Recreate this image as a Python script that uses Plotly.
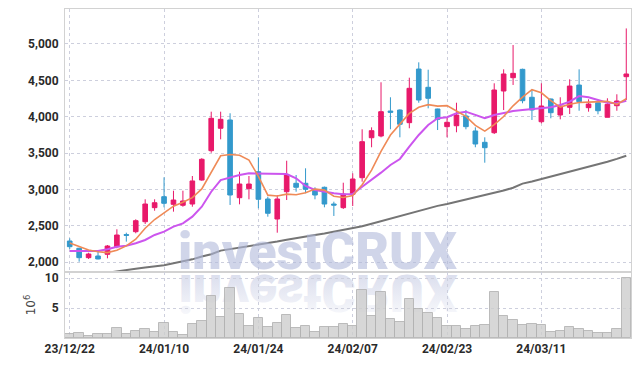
import plotly.graph_objects as go
from plotly.subplots import make_subplots
import urllib.parse

dates = ["23/12/22","23/12/26","23/12/27","23/12/28","24/01/02","24/01/03","24/01/04","24/01/05","24/01/08","24/01/09",
         "24/01/10","24/01/11","24/01/12","24/01/15","24/01/16","24/01/17","24/01/18","24/01/19","24/01/22","24/01/23",
         "24/01/24","24/01/25","24/01/26","24/01/29","24/01/30","24/01/31","24/02/01","24/02/02","24/02/05","24/02/06",
         "24/02/07","24/02/08","24/02/13","24/02/14","24/02/15","24/02/16","24/02/19","24/02/20","24/02/21","24/02/22",
         "24/02/23","24/02/26","24/02/27","24/02/28","24/02/29","24/03/04","24/03/05","24/03/06","24/03/07","24/03/08",
         "24/03/11","24/03/12","24/03/13","24/03/14","24/03/15","24/03/18","24/03/19","24/03/20","24/03/21","24/03/22"]

open_ = [2292,2192,2063,2086,2109,2214,2380,2420,2557,2750,
         2901,2796,2783,2800,3130,3533,3841,3955,2887,3011,
         3244,2869,2594,2969,3085,3085,3002,3030,2800,2750,
         2934,3162,3711,3735,4078,4092,3918,4655,4404,4106,
         3863,3876,4010,3804,3648,3780,4353,4536,4651,4267,
         3931,4243,4023,4129,4435,4124,4192,3992,4151,4550]
high = [2329,2200,2131,2159,2237,2453,2406,2590,2865,2865,
        3167,2983,2983,3185,3430,4069,4069,4047,3244,3185,
        3442,2901,2924,3395,3199,3291,3030,3040,2832,3093,
        3222,3827,3854,4473,4267,4100,4536,4747,4646,4110,
        3992,4192,4092,3854,3717,4459,4651,4985,4660,4376,
        4459,4250,4267,4514,4651,4239,4200,4253,4308,5213]
low = [2182,2008,2045,2040,2054,2192,2283,2398,2526,2708,
       2755,2695,2763,2763,3120,3505,3689,2787,2796,2865,
       2741,2626,2406,2855,2969,2948,2865,2755,2636,2732,
       2773,3107,3580,3717,3827,3717,3841,4192,4115,3817,
       3717,3786,3827,3580,3368,3762,4092,4436,4184,3955,
       3909,3978,3964,4037,4082,4069,4033,3992,4082,4229]
close = [2214,2063,2113,2045,2223,2374,2370,2571,2800,2818,
         2810,2855,2842,3117,3415,3978,3964,2924,3075,3075,
         2865,2673,2869,3199,3030,3002,2924,2800,2785,2938,
         3144,3657,3808,4069,4060,3896,4390,4229,4253,3964,
         3923,4023,3863,3625,3574,4367,4587,4596,4220,4092,
         4147,4055,4147,4421,4206,4174,4082,4170,4216,4587]

ma_short = [2265,2214,2168,2145,2132,2164,2225,2317,2468,2587,
            2674,2771,2825,2888,3008,3241,3463,3480,3471,3403,
            3181,2922,2911,2936,2927,2955,3005,2991,2908,2890,
            2918,3065,3266,3523,3748,3898,4045,4129,4166,4146,
            4152,4078,4005,3880,3802,3890,4003,4150,4269,4372,
            4328,4222,4132,4172,4195,4201,4206,4211,4170,4246]
ma_mid = [2155,2152,2150,2155,2178,2214,2228,2261,2306,2375,
          2420,2489,2535,2626,2763,2969,3130,3167,3199,3222,
          3222,3213,3213,3213,3154,3048,2993,2969,2948,2934,
          2938,3038,3130,3231,3336,3419,3588,3749,3886,3978,
          3992,4047,4069,4023,3978,4023,4055,4078,4092,4101,
          4115,4129,4161,4206,4284,4267,4229,4192,4184,4220]
ma_long = [1780,1800,1820,1840,1858,1878,1895,1912,1928,1943,
           1960,1985,2010,2040,2080,2110,2160,2180,2200,2220,
           2238,2262,2285,2310,2335,2355,2375,2395,2420,2443,
           2460,2495,2530,2565,2600,2640,2675,2710,2745,2775,
           2800,2830,2860,2895,2920,2950,2985,3024,3080,3110,
           3144,3175,3205,3240,3275,3310,3345,3380,3420,3464]

volume_m = [0.67,0.9,0.33,0.67,0.67,1.67,0.67,1.17,1.5,1.05,
            2.5,1.05,0.5,2.33,2.83,7.0,3.56,8.33,4.0,2.0,
            3.33,1.83,2.5,3.83,1.67,2.0,1.0,1.83,1.83,2.33,
            2.05,8.0,3.67,7.67,3.17,2.72,6.5,4.9,4.22,3.33,
            2.05,2.0,1.55,2.0,2.22,7.67,3.67,3.05,2.22,2.4,
            2.22,1.05,1.22,1.83,1.55,1.22,0.9,0.9,1.5,10.0]

price_ticks = [2000, 2500, 3000, 3500, 4000, 4500, 5000]
vol_ticks = [5, 10]
date_ticks = dates[0::10]

FONT = "Roboto, sans-serif"
UP = "#e8196a"
DOWN = "#3399cc"
GRID = "#cdcfdd"

L, R, T, B = 65, 8, 9, 28
PW = 639 - L - R
PH = 366 - T - B

fig = make_subplots(rows=2, cols=1, shared_xaxes=True, vertical_spacing=0)

fig.add_trace(go.Candlestick(x=dates, open=open_, high=high, low=low, close=close,
                             increasing=dict(line=dict(color=UP, width=1), fillcolor=UP),
                             decreasing=dict(line=dict(color=DOWN, width=1), fillcolor=DOWN),
                             showlegend=False, hoverinfo="skip"), row=1, col=1)
fig.add_trace(go.Scatter(x=dates, y=ma_long, mode="lines", line=dict(color="#757575", width=2),
                         showlegend=False, hoverinfo="skip"), row=1, col=1)
fig.add_trace(go.Scatter(x=dates, y=ma_mid, mode="lines", line=dict(color="#cc55ee", width=2),
                         showlegend=False, hoverinfo="skip"), row=1, col=1)
fig.add_trace(go.Scatter(x=dates, y=ma_short, mode="lines", line=dict(color="#ef8a57", width=1.6),
                         showlegend=False, hoverinfo="skip"), row=1, col=1)
fig.add_trace(go.Bar(x=dates, y=volume_m, marker=dict(color="rgba(205,205,205,0.8)",
                                                      line=dict(color="rgba(175,175,175,0.8)", width=1)),
                     width=1.0, showlegend=False, hoverinfo="skip"), row=2, col=1)

split = (338 - 272) / PH

axis_common = dict(showline=True, linecolor="#d2d2d2", linewidth=1, mirror=True, automargin=False,
                   showgrid=True, gridcolor=GRID, griddash="dot", gridwidth=1, zeroline=False,
                   tickfont=dict(family=FONT, size=12, color="#2a2a2a", weight="bold"))

fig.update_xaxes(type="category", range=[-0.5, 59.5], tickmode="array", tickvals=date_ticks,
                 ticktext=date_ticks, ticks="", **axis_common)
fig.update_xaxes(showticklabels=False, rangeslider=dict(visible=False), row=1, col=1)
fig.update_xaxes(showticklabels=True, row=2, col=1)

fig.update_yaxes(range=[1866, 5480], tickvals=price_ticks, tickformat=",d", ticks="",
                 ticklabelstandoff=3, domain=[split, 1], row=1, col=1, **axis_common)
fig.update_yaxes(range=[0, 11], tickvals=vol_ticks, ticks="", ticklabelstandoff=3,
                 domain=[0, split], row=2, col=1,
                 title=dict(text="10<sup>6</sup>", font=dict(family="DejaVu Sans", size=12, color="#444"),
                            standoff=6), **axis_common)

svg = ("<svg xmlns='http://www.w3.org/2000/svg' width='320' height='60'>"
       "<defs><linearGradient id='g' x1='0' y1='0' x2='0' y2='1'>"
       "<stop offset='0' stop-color='rgb(200,205,228)' stop-opacity='0.05'/>"
       "<stop offset='1' stop-color='rgb(200,205,228)' stop-opacity='0.8'/>"
       "</linearGradient></defs>"
       "<text x='160' y='-2' transform='scale(1,-1)' text-anchor='middle' font-family='Roboto' "
       "font-weight='900' font-size='52' fill='url(#g)'>investCRUX</text></svg>")
src = "data:image/svg+xml;charset=utf-8," + urllib.parse.quote(svg)
fig.add_layout_image(dict(source=src, xref="paper", yref="paper", x=(318 - 160 - L) / PW,
                          y=(338 - 273) / PH, sizex=320 / PW, sizey=60 / PH,
                          xanchor="left", yanchor="top", layer="below", sizing="stretch"))

fig.add_annotation(text="investCRUX", xref="paper", yref="paper", x=(318 - L) / PW,
                   y=(338 - 251) / PH, xanchor="center", yanchor="middle", showarrow=False,
                   font=dict(family="Roboto", size=52, color="rgba(177,185,218,0.6)", weight=900))

fig.update_layout(width=639, height=366, margin=dict(l=L, r=R, t=T, b=B),
                  paper_bgcolor="white", plot_bgcolor="rgba(0,0,0,0)", bargap=0,
                  font=dict(family=FONT, color="#333333"))

fig.write_html("out.html", config={"displayModeBar": False},
               post_script="document.body.style.margin='0';document.body.style.overflow='hidden';")
